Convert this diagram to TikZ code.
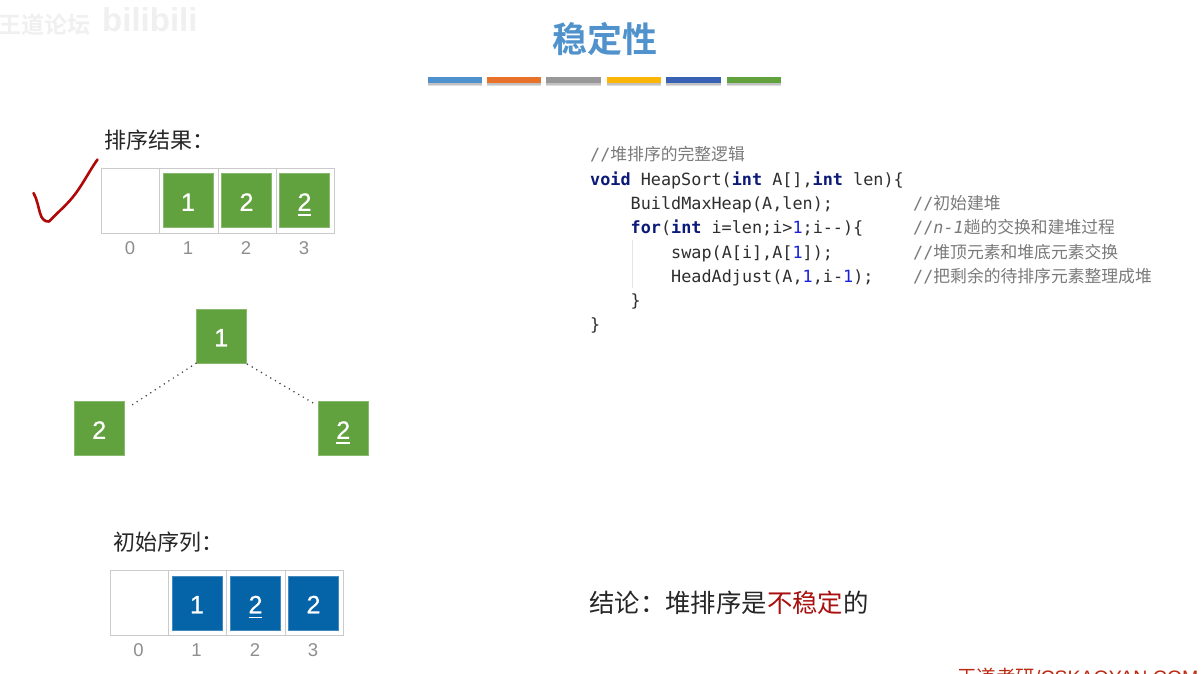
\documentclass[tikz,border=0pt]{standalone}
\usepackage{fontspec}
\setmainfont{Liberation Sans}
\setmonofont{DejaVu Sans Mono}
\newfontfamily\cjk{Noto Sans CJK SC}
\newfontfamily\cjkb{Noto Sans CJK SC Bold}
\newfontfamily\digitfont[FakeBold=0.7]{Liberation Sans}
\definecolor{kw}{HTML}{0B1A78}
\definecolor{num}{HTML}{1A22D8}
\definecolor{cmt}{HTML}{7A7A7A}
\definecolor{codec}{HTML}{2E2E2E}
\definecolor{grn}{HTML}{62A23E}
\definecolor{blu}{HTML}{0563A8}
\definecolor{slot}{HTML}{CBCBCB}
\definecolor{idx}{HTML}{8E8E8E}
\newcommand{\fs}[1]{\fontsize{#1}{#1}\selectfont}
\newcommand{\ulnum}[1]{\vtop{\hbox{#1}\kern3.5pt\hrule height 1.4pt}}
\newcommand{\K}[1]{\textbf{\textcolor{kw}{#1}}}
\newcommand{\N}[1]{\textcolor{num}{#1}}
\newcommand{\C}[1]{\textcolor{cmt}{//\cjk #1}}
\tikzset{
  x=1pt,y=-1pt,
  slotbox/.style={draw=slot,line width=1pt,fill=white,inner sep=0pt,minimum width=#1,minimum height=65pt},
  cellbox/.style={fill=#1,draw=#1!75!white,line width=.5pt,inner sep=0pt,minimum width=50pt,minimum height=54pt,
     text=white,font=\digitfont\fs{25},text height=20.5pt,text depth=0pt},
  idxlabel/.style={text=idx,font=\fs{18.5},inner sep=0pt},
  headlabel/.style={text=black!85,font=\cjk\fs{22},inner sep=0pt,anchor=west},
  codeline/.style={anchor=base west,inner sep=0pt,text=codec,font=\ttfamily\fs{16.8}},
  barshadow/.style={fill=black,fill opacity=.13,draw=none},
  dotlink/.style={draw=black!75,line width=1.7pt,line cap=round,dash pattern=on 0pt off 5.4pt},
  guide/.style={draw=black!10,line width=1pt}
}
\begin{document}
\begin{tikzpicture}
\useasboundingbox (0,0) rectangle (1204,673);
\clip (0,0) rectangle (1204,673);
\fill[white] (0,0) rectangle (1204,673);
% faint watermark
\node[anchor=west,inner sep=0pt,text=black!6,font=\cjkb\fs{23}] (wm1) at (-2,25) {王道论坛};
\node[anchor=west,inner sep=0pt,text=black!6,font=\bfseries\fs{33}] (wm2) at (102,20) {bilibili};
% title
\node[inner sep=0pt,font=\cjkb\fs{35},text={rgb,255:red,80;green,146;blue,204}] (title) at (604.5,39) {稳定性};
% colour bars
\foreach \xa/\xb/\c [count=\i] in {428/481.5/4F91CD,486.5/540.5/E9722A,546/601/989898,607/661/FDB508,666/720.5/3A62B4,727/781/62A23E}{
  \fill[barshadow] (\xa,79) rectangle (\xb,86);
  \fill[barshadow] (\xa,79) rectangle (\xb,84.5);
  \definecolor{tmpc}{HTML}{\c}
  \fill[tmpc] (\xa,77) rectangle (\xb,83);
}
% result table
\node[headlabel] (h1) at (104,140) {排序结果：};
\node[slotbox=58.5pt] (r0) at (130.25,200.5) {};
\node[slotbox=58.5pt] (r1) at (188.75,200.5) {};
\node[slotbox=58.5pt] (r2) at (247.25,200.5) {};
\node[slotbox=58pt]   (r3) at (305,200.5) {};
\node[cellbox=grn] (rc1) at (188,200.5) {1};
\node[cellbox=grn] (rc2) at (246.5,200.5) {2};
\node[cellbox=grn] (rc3) at (304.5,200.5) {\ulnum{2}};
\node[idxlabel] (ri0) at (130,248.5) {0};
\node[idxlabel] (ri1) at (188,248.5) {1};
\node[idxlabel] (ri2) at (246,248.5) {2};
\node[idxlabel] (ri3) at (304,248.5) {3};
% red tick
\draw[draw={rgb,255:red,176;green,8;blue,8},line width=2.6pt,line cap=round,line join=round]
  (33.5,193) .. controls (37,199) and (38,206) .. (40,213)
  .. controls (41.5,219) and (45,222) .. (49,221.5)
  .. controls (58,212) and (68,204) .. (76,193)
  .. controls (84,182) and (90,170) .. (97.5,159.5);
% tree
\node[cellbox=grn] (t1) at (221.25,336) {1};
\node[cellbox=grn] (t2) at (99.25,428.5) {2};
\node[cellbox=grn] (t3) at (343.25,428.5) {\ulnum{2}};
\draw[dotlink] (t1.south west) -- ([shift={(4,6)}]t2.north east);
\draw[dotlink] ([shift={(1,1)}]t1.south east) -- ([shift={(-1,4)}]t3.north west);
% initial table
\node[headlabel] (h2) at (113,542) {初始序列：};
\node[slotbox=58.5pt] (s0) at (139.25,602.5) {};
\node[slotbox=58.5pt] (s1) at (197.25,602.5) {};
\node[slotbox=58.5pt] (s2) at (255.75,602.5) {};
\node[slotbox=58pt]   (s3) at (314,602.5) {};
\node[cellbox=blu] (sc1) at (197,603) {1};
\node[cellbox=blu] (sc2) at (255.5,603) {\ulnum{2}};
\node[cellbox=blu] (sc3) at (313.5,603) {2};
\node[idxlabel] (si0) at (138.5,650.5) {0};
\node[idxlabel] (si1) at (196.5,650.5) {1};
\node[idxlabel] (si2) at (255,650.5) {2};
\node[idxlabel] (si3) at (313,650.5) {3};
% code
\coordinate (g1) at (632,240);
\coordinate (g2) at (632,288);
\draw[guide] (g1) -- (g2);
\node[codeline] (c1) at (590,160.5) {\C{堆排序的完整逻辑}};
\node[codeline] (c2) at (590,185) {\K{void} HeapSort(\K{int} A[],\K{int} len)\{};
\node[codeline] (c3) at (630.5,209.5) {BuildMaxHeap(A,len);};
\node[codeline] (c3c) at (913,209.5) {\C{初始建堆}};
\node[codeline] (c4) at (630.5,233.5) {\K{for}(\K{int} i=len;i>\N{1};i--)\{};
\node[codeline] (c4c) at (913,233.5) {\textcolor{cmt}{//\textit{n-1}\cjk 趟的交换和建堆过程}};
\node[codeline] (c5) at (671,258) {swap(A[i],A[\N{1}]);};
\node[codeline] (c5c) at (913,258) {\C{堆顶元素和堆底元素交换}};
\node[codeline] (c6) at (671,282.5) {HeadAdjust(A,\N{1},i-\N{1});};
\node[codeline] (c6c) at (913,282.5) {\C{把剩余的待排序元素整理成堆}};
\node[codeline] (c7) at (630.5,306) {\}};
\node[codeline] (c8) at (590,330.5) {\}};
% conclusion
\node[anchor=west,inner sep=0pt,text=black!85,font=\cjk\fs{25.4}] (concl) at (589,603)
  {结论：堆排序是\textcolor[HTML]{A81010}{不稳定}的};
% footer
\node[anchor=base west,inner sep=0pt,text={rgb,255:red,190;green,40;blue,15},font=\fs{19.5}] (foot) at (957,684)
  {{\cjk 王道考研}/CSKAOYAN.COM};
\end{tikzpicture}
\end{document}
